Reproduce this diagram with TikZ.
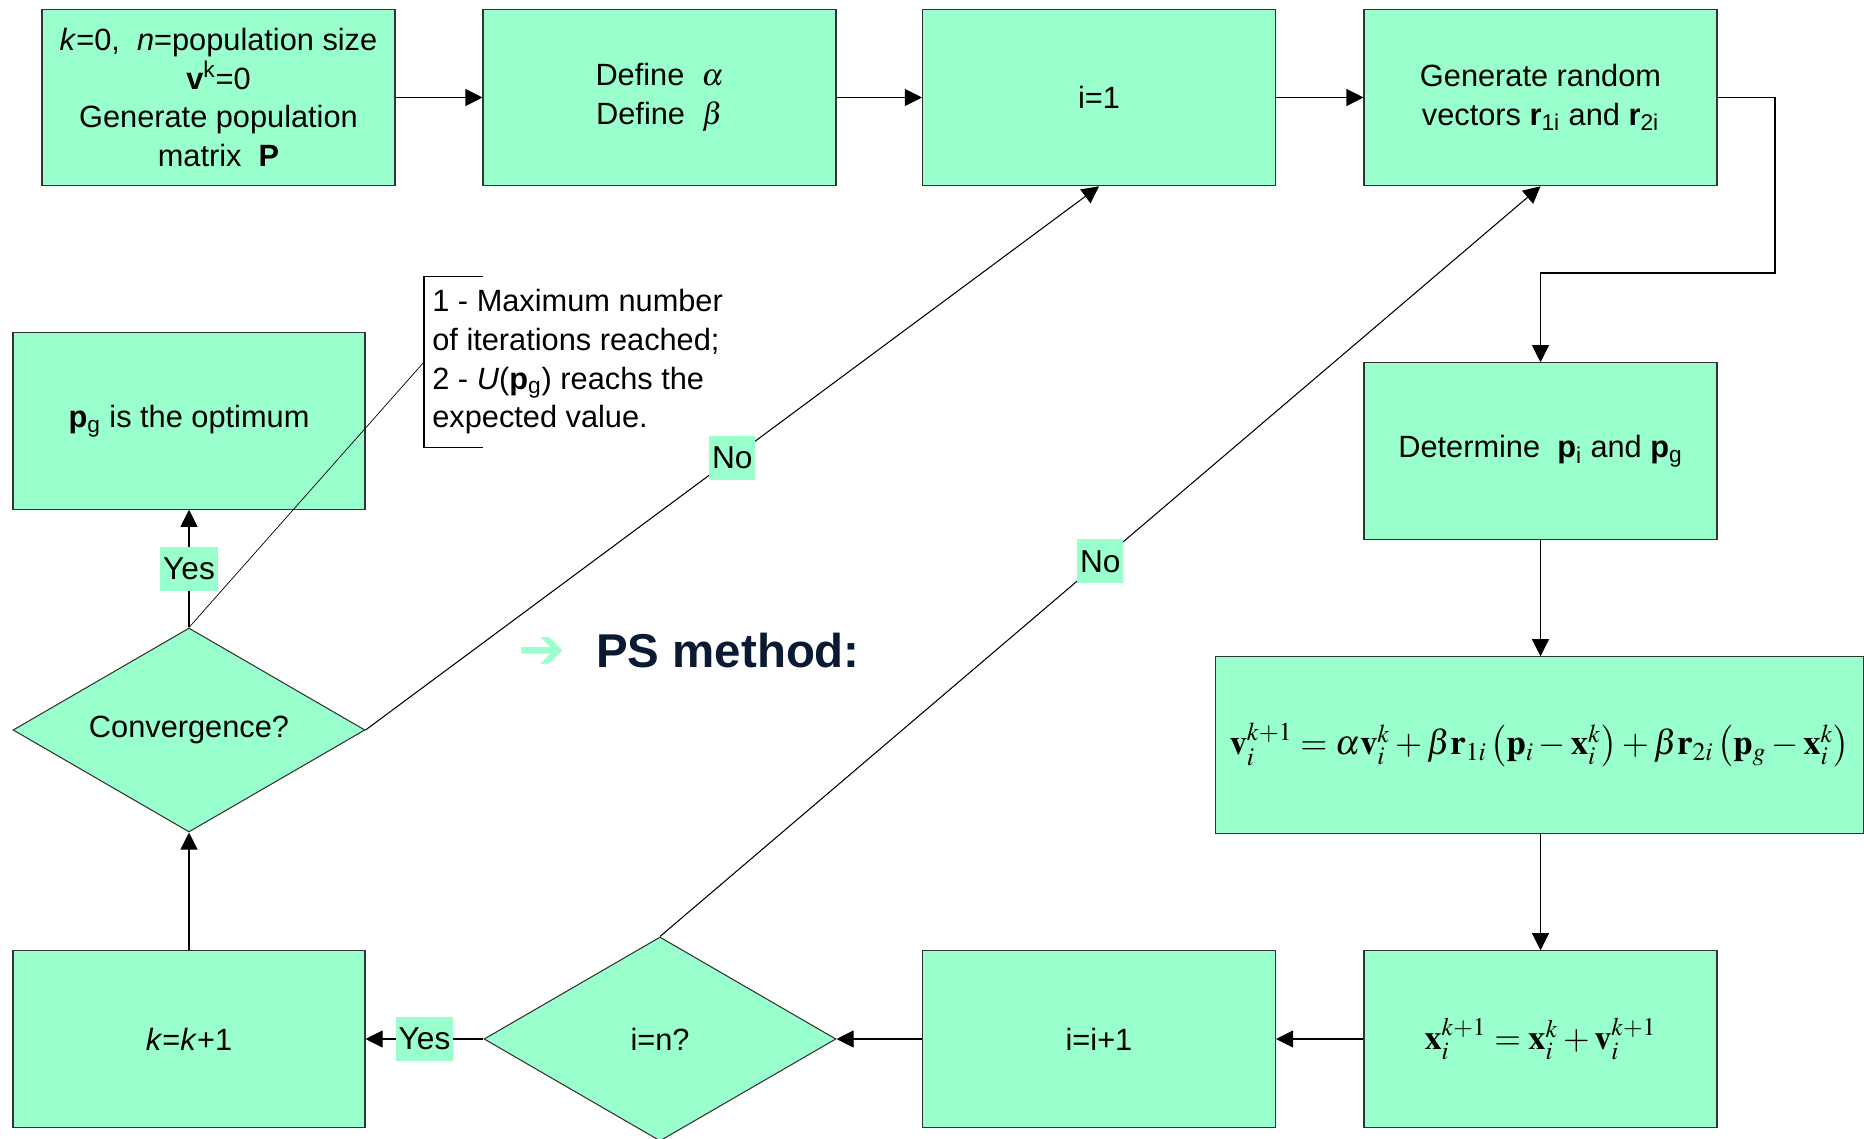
\documentclass[tikz,border=0pt]{standalone}
\usepackage{mathptmx}
\usepackage[no-math]{fontspec}
\setmainfont{Liberation Sans}
\newfontfamily\arrowfont{DejaVu Sans}
\usepackage{graphicx}
\usetikzlibrary{arrows.meta}
\usetikzlibrary{shapes.geometric}

\begin{document}
\begin{tikzpicture}[
    box/.style={draw=black!80, fill=psgreen, line width=0.6pt, minimum width=7.06cm, minimum height=3.53cm,
      inner sep=0pt, align=center, font=\fontsize{17.5}{22}\selectfont},
    decision/.style={draw=black!80, fill=psgreen, line width=0.6pt, shape=diamond, aspect=1.7, inner sep=0pt,
      minimum width=7.04cm, minimum height=4.08cm, font=\fontsize{17.5}{22}\selectfont},
    arr/.style={line width=0.6pt, -{Triangle[length=0.34cm,width=0.34cm]}},
    lbl/.style={fill=psgreen, inner xsep=0.06cm, inner ysep=0pt, minimum height=0.88cm, font=\fontsize{18}{22}\selectfont}
  ]
    \definecolor{psgreen}{HTML}{99FFCC}
    \definecolor{psnavy}{HTML}{0A1A33}
    \clip (0,0) rectangle (37.28,-22.78);  %Bildrand

    % obere Reihe
    \node[box] (init) at (4.37,-1.95) {\textit{k}=0, \ \textit{n}=population size\\\textbf{v}\textsuperscript{k}=0\\Generate population\\matrix \ \textbf{P}};
    \node[box] (defab) at (13.19,-1.95) {Define \ $\alpha$\\Define \ $\beta$};
    \node[box] (ione) at (21.98,-1.95) {i=1};
    \node[box] (randvec) at (30.81,-1.95) {Generate random\\vectors \textbf{r}\textsubscript{1i} and \textbf{r}\textsubscript{2i}};

    % rechte Spalte
    \node[box] (detp) at (30.81,-9.02) {Determine \ \textbf{p}\textsubscript{i} and \textbf{p}\textsubscript{g}};
    \node[box, minimum width=12.96cm] (vupd) at (30.79,-14.9)
      {\resizebox{12.4cm}{!}{$\mathbf{v}_i^{k+1}=\alpha\mathbf{v}_i^k+\beta\mathbf{r}_{1i}\left(\mathbf{p}_i-\mathbf{x}_i^k\right)+\beta\mathbf{r}_{2i}\left(\mathbf{p}_g-\mathbf{x}_i^k\right)$}};

    % untere Reihe
    \node[box] (xupd) at (30.81,-20.78) {\resizebox{4.64cm}{!}{$\mathbf{x}_i^{k+1}=\mathbf{x}_i^k+\mathbf{v}_i^{k+1}$}};
    \node[box] (iinc) at (21.98,-20.78) {i=i+1};
    \node[decision] (ieqn) at (13.2,-20.78) {i=n?};
    \node[box, minimum width=7.04cm] (kinc) at (3.78,-20.78) {\textit{k}=\textit{k}+1};

    % linke Spalte
    \node[decision] (conv) at (3.78,-14.6) {Convergence?};
    \node[box, minimum width=7.04cm] (optim) at (3.78,-8.42) {\textbf{p}\textsubscript{g} is the optimum};

    % Anmerkung
    \node[anchor=west, align=left, minimum height=3.4cm, inner xsep=0.16cm, inner ysep=0pt,
      font=\fontsize{17.5}{22}\selectfont] (note) at (8.48,-7.24)
      {1 - Maximum number\\of iterations reached;\\2 - \textit{U}(\textbf{p}\textsubscript{g}) reachs the\\expected value.};
    \draw[line width=0.6pt] ([xshift=1.18cm]note.north west) -- (note.north west) -- (note.south west) -- ([xshift=1.18cm]note.south west);  %Klammer
    \draw[line width=0.4pt] (note.west) -- (conv.north);

    % Titel
    \node[text=psgreen, font=\arrowfont\fontsize{32}{32}\selectfont] (bullet) at (10.84,-13.06) {➔};
    \node[anchor=base west, text=psnavy, font=\fontsize{27}{27}\selectfont\bfseries] (title) at (11.8,-13.34) {PS method:};

    % Verbindungen
    \coordinate (bend) at (35.5,-5.46);
    \draw[arr] (init) -- (defab);
    \draw[arr] (defab) -- (ione);
    \draw[arr] (ione) -- (randvec);
    \draw[arr] (randvec.east) -| (bend) -| (detp.north);
    \draw[arr] (detp.south) -- (detp.south |- vupd.north);
    \draw[arr] (detp.south |- vupd.south) -- (xupd.north);
    \draw[arr] (xupd) -- (iinc);
    \draw[arr] (iinc) -- (ieqn);
    \draw[arr] (ieqn) -- node[lbl] {Yes} (kinc);
    \draw[arr] (kinc) -- (conv);
    \draw[arr] (conv) -- node[lbl] {Yes} (optim);
    \draw[arr] (conv.east) -- node[lbl] {No} (ione.south);
    \draw[arr] (ieqn.north) -- node[lbl] {No} (randvec.south);
  \end{tikzpicture}
\end{document}
